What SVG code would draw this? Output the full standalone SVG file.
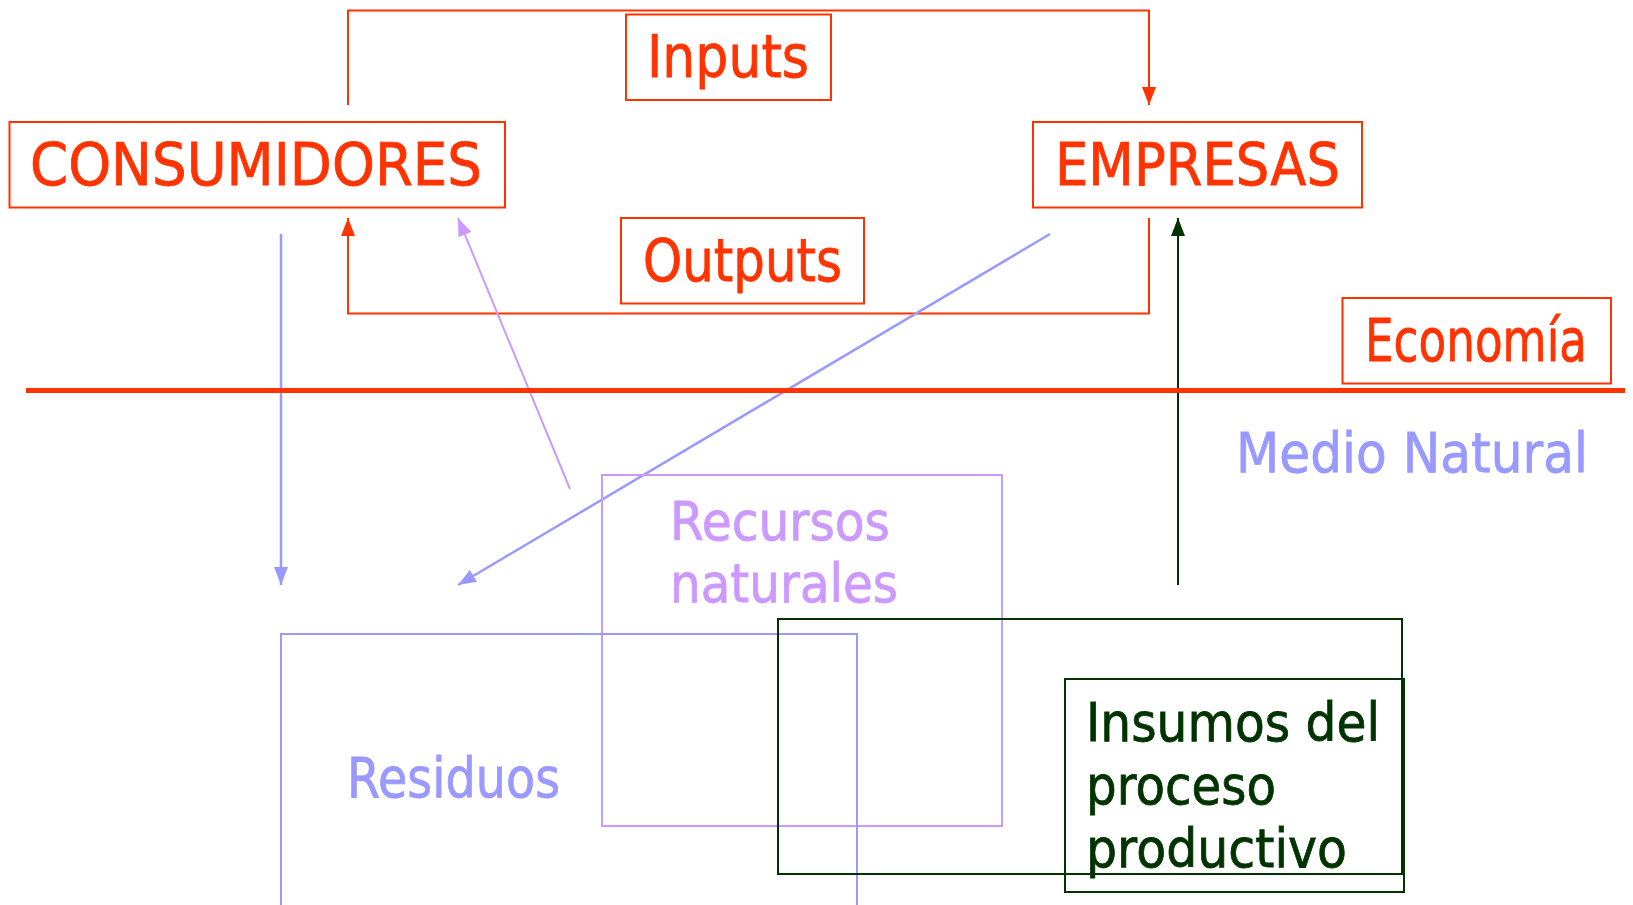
<svg xmlns="http://www.w3.org/2000/svg" width="1633" height="905" viewBox="0 0 1633 905">
<style>
text{font-family:"DejaVu Sans","Liberation Sans",sans-serif;stroke-width:0.8;}
.red{fill:#FF3300;stroke:#FF3300;font-size:58px;}
.blue{fill:#9999FF;stroke:#9999FF;font-size:56px;}
.purple{fill:#CC99FF;stroke:#CC99FF;font-size:54px;}
.green{fill:#003300;stroke:#003300;font-size:54px;}
.rbox{fill:none;stroke:#FF3300;stroke-width:2;}
.rl{fill:none;stroke:#FF3300;stroke-width:2;}
.bl{fill:none;stroke:#9999FF;stroke-width:2.5;}
.pl{fill:none;stroke:#CC99FF;stroke-width:2;}
.gl{fill:none;stroke:#003300;stroke-width:2;}
</style>
<defs>
<marker id="aR" markerUnits="userSpaceOnUse" markerWidth="18" markerHeight="14" refX="18" refY="7" orient="auto"><path d="M0,0 L18,7 L0,14 z" fill="#FF3300"/></marker>
<marker id="aB" markerUnits="userSpaceOnUse" markerWidth="18" markerHeight="14" refX="18" refY="7" orient="auto"><path d="M0,0 L18,7 L0,14 z" fill="#9999FF"/></marker>
<marker id="aP" markerUnits="userSpaceOnUse" markerWidth="18" markerHeight="14" refX="18" refY="7" orient="auto"><path d="M0,0 L18,7 L0,14 z" fill="#CC99FF"/></marker>
<marker id="aG" markerUnits="userSpaceOnUse" markerWidth="18" markerHeight="14" refX="18" refY="7" orient="auto"><path d="M0,0 L18,7 L0,14 z" fill="#003300"/></marker>
</defs>
<rect width="1633" height="905" fill="#fff"/>

<g id="connectors">
<path class="rl" d="M348,105 L348,10.5 L1149,10.5 L1149,105" marker-end="url(#aR)"/>
<path class="rl" d="M1149,218 L1149,313.5 L348,313.5 L348,218" marker-end="url(#aR)"/>
<line class="pl" x1="570" y1="489" x2="458" y2="218" marker-end="url(#aP)"/>
<line class="bl" x1="1050" y1="234" x2="458" y2="585" marker-end="url(#aB)"/>
<line class="bl" x1="281" y1="234" x2="281" y2="585" marker-end="url(#aB)"/>
<line class="gl" x1="1178" y1="585" x2="1178" y2="218" marker-end="url(#aG)"/>
</g>

<g id="divider"><line x1="26" y1="390.5" x2="1625" y2="390.5" stroke="#FF3300" stroke-width="5"/></g>

<g id="inputs"><rect class="rbox" x="626" y="14.5" width="205" height="85.5"/><text class="red" x="647" y="77" textLength="162" lengthAdjust="spacingAndGlyphs">Inputs</text></g>
<g id="consumidores"><rect class="rbox" x="9.5" y="122" width="495.5" height="85.5"/><text class="red" x="30" y="185" textLength="452" lengthAdjust="spacingAndGlyphs">CONSUMIDORES</text></g>
<g id="empresas"><rect class="rbox" x="1033" y="122" width="329" height="85.5"/><text class="red" x="1055" y="185" textLength="285" lengthAdjust="spacingAndGlyphs">EMPRESAS</text></g>
<g id="outputs"><rect class="rbox" x="621" y="218" width="243" height="85.5"/><text class="red" x="643" y="281" textLength="199" lengthAdjust="spacingAndGlyphs">Outputs</text></g>
<g id="economia"><rect class="rbox" x="1342.5" y="298" width="268.5" height="85.5"/><text class="red" x="1365" y="361" textLength="222" lengthAdjust="spacingAndGlyphs">Economía</text></g>
<g id="medio-natural"><text class="blue" x="1236" y="472" textLength="352" lengthAdjust="spacingAndGlyphs">Medio Natural</text></g>

<g id="recursos"><rect class="pl" x="602" y="475" width="400" height="351"/><text class="purple" x="670" y="540" textLength="220" lengthAdjust="spacingAndGlyphs">Recursos</text><text class="purple" x="670" y="602" textLength="228" lengthAdjust="spacingAndGlyphs">naturales</text></g>

<g id="residuos"><path class="bl" style="stroke-width:2" d="M281,905 L281,634 L857,634 L857,905"/><text class="blue" x="347" y="797" textLength="213" lengthAdjust="spacingAndGlyphs">Residuos</text></g>

<g id="proceso-productivo"><rect class="gl" x="778" y="619" width="624" height="255"/></g>
<g id="insumos"><rect class="gl" x="1065" y="679" width="339" height="213"/><text class="green" x="1086" y="741" textLength="294" lengthAdjust="spacingAndGlyphs">Insumos del</text><text class="green" x="1086" y="804" textLength="190" lengthAdjust="spacingAndGlyphs">proceso</text><text class="green" x="1086" y="867" textLength="261" lengthAdjust="spacingAndGlyphs">productivo</text></g>
</svg>
